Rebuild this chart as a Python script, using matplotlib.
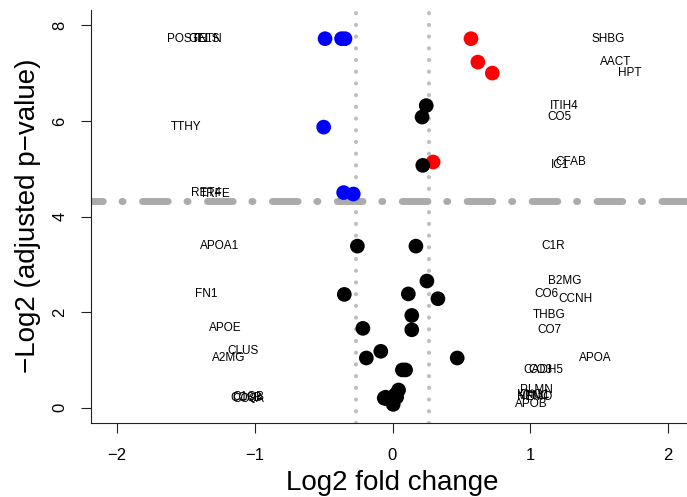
import matplotlib.pyplot as plt
import numpy as np

plt.rcParams['font.family'] = ['Liberation Sans', 'DejaVu Sans']

# protein names, log2 fold change and -log2 adjusted p-value
genes = ['POSTN', 'GELS', 'TETN', 'TTHY', 'RET4', 'TRFE',
         'SHBG', 'AACT', 'HPT', 'CFAB',
         'ITIH4', 'CO5', 'IC1', 'APOA1', 'C1R', 'B2MG', 'FN1', 'CO6', 'CCNH',
         'THBG', 'CO7', 'APOE', 'CLUS', 'A2MG', 'APOA', 'CO3', 'CADH5',
         'PLMN', 'VTNC', 'KNG1', 'HEMO', 'APOB', 'CO8B', 'C1QB', 'CO8A']
log2fc = [-0.49, -0.37, -0.345, -0.50, -0.355, -0.285,
          0.57, 0.62, 0.725, 0.295,
          0.245, 0.215, 0.22, -0.255, 0.17, 0.25, -0.35, 0.115, 0.33,
          0.14, 0.14, -0.215, -0.085, -0.19, 0.47, 0.072, 0.095,
          0.044, 0.025, 0.02, 0.03, 0.005, -0.06, -0.05, -0.045]
neglog2p = [7.72, 7.72, 7.72, 5.87, 4.50, 4.47,
            7.72, 7.23, 7.00, 5.14,
            6.32, 6.08, 5.07, 3.38, 3.38, 2.65, 2.37, 2.38, 2.28,
            1.93, 1.63, 1.66, 1.18, 1.04, 1.04, 0.79, 0.79,
            0.37, 0.25, 0.27, 0.22, 0.07, 0.20, 0.22, 0.19]

fc_cut = 0.263   # log2(1.2)
p_cut = 4.32     # -log2(0.05)

W, H = 687, 497
fig = plt.figure(figsize=(W / 100, H / 100), dpi=100)
ax = fig.add_axes([91 / W, 74 / H, 603 / W, 413 / H])

x = np.array(log2fc)
y = np.array(neglog2p)
cols = np.where((x > fc_cut) & (y > p_cut), '#FF0000',
                np.where((x < -fc_cut) & (y > p_cut), '#0000FF', '#000000'))

for v in (-fc_cut, fc_cut):
    ax.axvline(v, color='#BEBEBE', lw=3.0, linestyle=(0, (0.01, 2.8)),
               dash_capstyle='round', zorder=1)
ax.axhline(p_cut, color='#ABABAB', lw=5, linestyle=(2, (3.7, 2.7, 0.15, 2.8)),
           dash_capstyle='round', zorder=1)

ax.scatter(x, y, s=112, c=cols, linewidths=0, zorder=3)

for g, xi, yi in zip(genes, x, y):
    ax.text(xi + np.sign(xi) * 1, yi, g, fontsize=8.5, ha='center', va='center')

ax.set_xlim(-2.19, 2.19)
ax.set_ylim(-0.32, 8.32)
ax.spines['top'].set_visible(False)
ax.spines['right'].set_visible(False)
for s in ('left', 'bottom'):
    ax.spines[s].set_linewidth(0.8)
    ax.spines[s].set_color('#222222')

ax.set_xticks([-2, -1, 0, 1, 2])
ax.set_yticks([0, 2, 4, 6, 8])
ax.tick_params(length=7, width=0.8, color='#222222', labelsize=12)
ax.tick_params(axis='x', pad=11)
ax.tick_params(axis='y', pad=10, labelrotation=90)
for lbl in ax.get_yticklabels():
    lbl.set_va('center')

fig.text(392 / W, 1 - 483 / H, 'Log2 fold change', fontsize=20,
         ha='center', va='center')
fig.text(28 / W, 1 - 216 / H, '\u2212Log2 (adjusted p\u2212value)', fontsize=20,
         ha='center', va='center', rotation=90)

fig.savefig('out.png', dpi=100)
